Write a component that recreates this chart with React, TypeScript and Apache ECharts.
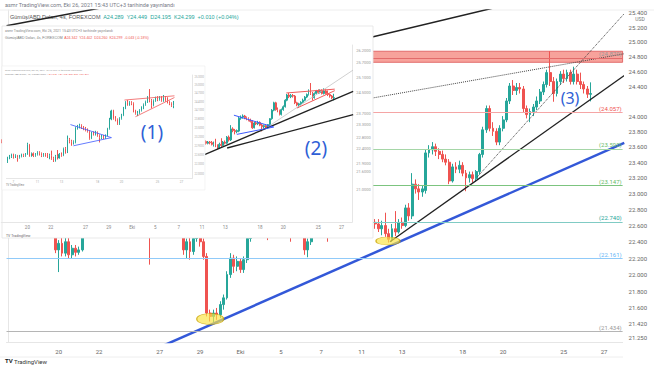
import React, { useEffect, useRef } from "react";
import * as echarts from "echarts";

// ---------- data ----------
const tradingDays = [
  "2021-09-15","2021-09-16","2021-09-17","2021-09-20","2021-09-21","2021-09-22","2021-09-23","2021-09-24",
  "2021-09-27","2021-09-28","2021-09-29","2021-09-30","2021-10-01","2021-10-04","2021-10-05","2021-10-06",
  "2021-10-07","2021-10-08","2021-10-11","2021-10-12","2021-10-13","2021-10-14","2021-10-15","2021-10-18",
  "2021-10-19","2021-10-20","2021-10-21","2021-10-22","2021-10-25","2021-10-26","2021-10-27",
];
const candleHours = ["00:00", "04:00", "08:00", "12:00", "16:00", "20:00"];
const firstSlot = 3; // series starts 2021-09-15 12:00

const timeLabelDays = [
  "2021-09-20","2021-09-22","2021-09-27","2021-09-29","2021-10-01","2021-10-05","2021-10-07",
  "2021-10-11","2021-10-13","2021-10-18","2021-10-20","2021-10-25","2021-10-27",
];
const monthNames: Record<string, string> = { "2021-10-01": "Eki" };

// 4h candles: [open, close, low, high]
const candles = [
  [22.70,22.64,22.58,22.76],[22.64,22.70,22.60,22.78],[22.70,22.66,22.60,22.74],[22.66,22.60,22.54,22.70],[22.60,22.66,22.55,22.72],[22.66,22.62,22.56,22.70],
  [22.62,22.68,22.58,22.74],[22.68,22.64,22.58,22.72],[22.64,22.58,22.52,22.68],[22.58,22.62,22.52,22.66],[22.62,22.60,22.54,22.68],[22.60,22.64,22.55,22.70],
  [22.64,22.60,22.54,22.68],[22.60,22.56,22.50,22.64],[22.56,22.30,22.26,22.60],[22.30,22.38,22.03,22.42],[22.38,22.26,22.22,22.46],[22.26,22.40,22.22,22.48],
  [22.40,22.24,22.20,22.46],[22.24,22.32,22.20,22.36],[22.32,22.27,22.22,22.36],[22.27,22.30,22.24,22.34],[22.30,22.52,22.28,22.56],[22.52,22.62,22.50,22.68],
  [22.62,22.70,22.56,22.78],[22.70,22.66,22.60,22.76],[22.66,22.80,22.62,22.86],[22.80,22.74,22.66,22.90],[22.74,22.90,22.70,22.96],[22.90,22.76,22.62,22.98],
  [22.76,22.82,22.70,22.88],[22.82,22.88,22.76,22.94],[22.88,22.80,22.72,22.92],[22.80,22.74,22.66,22.84],[22.74,22.84,22.70,22.90],[22.84,22.78,22.70,22.88],
  [22.78,22.68,22.60,22.82],[22.68,22.62,22.56,22.72],[22.62,22.66,22.56,22.72],[22.66,22.60,22.54,22.70],[22.60,22.64,22.55,22.68],[22.64,22.58,22.52,22.68],
  [22.58,22.55,22.12,22.62],[22.55,22.62,22.50,22.66],[22.62,22.70,22.58,22.76],[22.70,22.66,22.60,22.74],[22.66,22.74,22.62,22.80],[22.74,22.70,22.64,22.78],
  [22.70,22.64,22.58,22.74],[22.64,22.68,22.58,22.72],[22.68,22.60,22.52,22.70],[22.60,22.56,22.48,22.64],[22.56,22.30,22.24,22.60],[22.30,22.40,22.20,22.44],
  [22.40,22.28,22.18,22.46],[22.28,22.44,22.24,22.50],[22.44,22.50,22.40,22.56],[22.50,22.40,22.34,22.54],[22.40,22.22,22.18,22.44],[22.22,21.54,21.50,22.26],
  [21.54,21.50,21.44,21.58],[21.50,21.54,21.43,21.58],[21.54,21.52,21.46,21.60],[21.52,21.64,21.48,21.68],[21.64,21.72,21.58,21.76],[21.72,22.00,21.70,22.04],
  [22.00,22.20,21.96,22.26],[22.20,22.10,22.02,22.24],[22.10,22.16,22.04,22.22],[22.16,22.06,22.02,22.20],[22.06,22.18,22.02,22.22],[22.18,22.44,22.14,22.48],
  [22.44,22.62,22.40,22.66],[22.62,22.70,22.56,22.76],[22.70,22.66,22.60,22.76],[22.66,22.74,22.60,22.80],[22.74,22.70,22.62,22.78],[22.70,22.62,22.42,22.74],
  [22.62,22.70,22.56,22.76],[22.70,22.76,22.64,22.82],[22.76,22.72,22.66,22.80],[22.72,22.66,22.58,22.76],[22.66,22.70,22.60,22.76],[22.70,22.62,22.56,22.74],
  [22.62,22.58,22.40,22.66],[22.58,22.64,22.52,22.70],[22.64,22.56,22.50,22.68],[22.56,22.50,22.46,22.60],[22.50,22.30,22.24,22.54],[22.30,22.40,22.21,22.44],
  [22.40,22.52,22.36,22.56],[22.52,22.58,22.48,22.62],[22.58,22.62,22.52,22.66],[22.62,22.56,22.50,22.66],[22.56,22.60,22.52,22.64],[22.60,22.54,22.40,22.62],
  [22.54,22.58,22.50,22.62],[22.58,22.62,22.54,22.66],[22.62,22.60,22.55,22.66],[22.60,22.64,22.56,22.68],[22.64,22.96,22.62,23.02],[22.96,22.62,22.56,22.98],
  [22.62,22.66,22.56,22.70],[22.66,22.60,22.55,22.70],[22.60,22.64,22.56,22.68],[22.64,22.70,22.60,22.74],[22.70,22.66,22.60,22.74],[22.66,22.60,22.55,22.70],
  [22.60,22.64,22.56,22.68],[22.64,22.62,22.56,22.68],
  [22.62,22.56,22.52,22.68],[22.56,22.60,22.48,22.66],[22.60,22.50,22.46,22.76],[22.50,22.43,22.39,22.56],[22.43,22.56,22.40,22.62],[22.56,22.52,22.47,22.78],
  [22.52,22.64,22.50,22.68],[22.64,22.60,22.56,22.70],[22.60,22.82,22.58,22.86],[22.82,22.72,22.66,22.88],[22.72,23.12,22.68,23.26],[23.12,23.06,23.00,23.18],
  [23.06,23.02,22.92,23.12],[23.02,23.06,22.96,23.10],[23.04,23.52,23.00,23.56],[23.52,23.56,23.46,23.62],[23.56,23.60,23.50,23.66],[23.60,23.54,23.48,23.64],
  [23.54,23.50,23.44,23.58],[23.50,23.44,23.40,23.55],[23.44,23.40,23.36,23.50],[23.40,23.16,23.12,23.44],[23.16,23.34,23.14,23.38],[23.34,23.31,23.26,23.40],
  [23.31,23.36,23.26,23.42],[23.36,23.26,23.22,23.40],[23.26,23.20,23.03,23.30],[23.20,23.24,23.14,23.28],[23.24,23.19,23.14,23.28],[23.19,23.28,23.15,23.30],
  [23.28,23.50,23.24,23.52],[23.50,23.82,23.46,23.86],[23.82,24.10,23.78,24.14],[24.10,23.84,23.80,24.14],[23.84,23.80,23.74,23.92],[23.80,23.66,23.62,23.84],
  [23.66,23.84,23.62,23.88],[23.84,23.95,23.80,24.00],[23.95,24.20,23.92,24.24],[24.20,24.40,24.16,24.44],[24.40,24.34,24.28,24.48],[24.34,24.38,24.28,24.44],
  [24.38,24.36,24.30,24.44],[24.36,24.10,24.05,24.40],[24.10,24.02,23.97,24.14],[24.02,24.06,23.92,24.10],[24.06,24.12,24.00,24.16],[24.12,24.20,24.08,24.26],
  [24.20,24.32,24.16,24.36],[24.32,24.42,24.28,24.46],[24.42,24.58,24.38,24.62],[24.58,24.46,24.40,24.87],[24.46,24.30,24.19,24.52],[24.30,24.46,24.26,24.50],
  [24.46,24.56,24.42,24.60],[24.56,24.50,24.44,24.62],[24.50,24.58,24.46,24.62],[24.58,24.46,24.42,24.62],[24.46,24.56,24.42,24.66],[24.56,24.46,24.42,24.62],
  [24.46,24.42,24.36,24.58],[24.42,24.36,24.30,24.46],[24.36,24.29,24.24,24.40],[24.289,24.299,24.195,24.449],
];

// price axis (log scale) ticks and ranges
const priceTicks = [25.4, 25.2, 25.0, 24.8, 24.6, 24.4, 24.0, 23.8, 23.6, 23.4, 23.2, 23.0, 22.8, 22.6, 22.4, 22.2, 22.0, 21.8, 21.6, 21.42, 21.25];
const mainRange = [21.2, 25.44];
const inset2Ticks = [26.2, 25.7, 25.1, 24.5, 23.7, 23.3, 22.8, 22.4, 21.9, 21.6, 21.0];
const inset2Range = [19.94, 26.42];
const inset1Ticks = [25.3, 25.0, 24.7, 24.4, 24.1, 23.8, 23.5, 23.2, 22.9, 22.6, 22.3, 22.0];
const inset1Range = [21.88, 25.38];

// horizontal levels
const resistanceZone = [24.72, 24.87];
const levelPrices = [24.87, 24.057, 23.59, 23.147, 22.74, 22.161, 21.434];
const lastPrice = 24.299;
const lastCountdown = "16:41";

// drawings: anchors as [candle index, price]
const trendA = [[-0.5, 25.22], [33.2, 25.52]];
const trendB = [[86.7, 24.83], [146.1, 25.49]];
const trendC = [[113.4, 22.40], [183, 24.54]];
const trendCInset = [[100, 22.01], [183, 24.54]];
const trendD = [[38, 21.02], [183, 23.65]];
const trendDInset = [[118, 22.43], [183, 23.65]];
const dottedE = [[100, 24.175], [183, 24.836]];
const dottedF = [[139.3, 23.21], [183, 25.39]];
const triangleTop = [[121.5, 23.63], [142, 23.19]];
const triangleBottom = [[123, 22.92], [142, 23.19]];
const wedgeTop = [[148.5, 24.48], [173.5, 24.63]];
const wedgeBottom = [[154, 23.90], [173.5, 24.57]];
const touchPoints = [[112.8, 22.41], [60, 21.47]];

// ---------- option ----------
const L = Math.log;
const UP = "#26a69a";
const DOWN = "#ef5350";
const FONT = "Roboto, 'Noto Sans', sans-serif";

const allCats: string[] = [];
tradingDays.forEach((d) => candleHours.forEach((h) => allCats.push(`${d} ${h}`)));
const cats = allCats.slice(firstSlot);
const N = cats.length;
const labelSet = new Set(timeLabelDays.map((d) => `${d} 00:00`));
const dayFmt = (v: string) => monthNames[v.slice(0, 10)] ?? String(parseInt(v.slice(8, 10), 10));
const lnCandles = candles.map((c) => c.map((v) => L(v)));

function seg(pts: number[][], xi: number, yi: number, lineStyle: any, z: number) {
  return {
    type: "line", xAxisIndex: xi, yAxisIndex: yi, z, silent: true, symbol: "none", showSymbol: false,
    data: pts.map(([c, p]) => [c, L(p)]), lineStyle, emphasis: { disabled: true },
  };
}

function catAxis(grid: number, from: number, fontSize: number, color: string, margin: number, z: number, show = true) {
  return {
    type: "category", gridIndex: grid, data: cats.slice(from), boundaryGap: true, z,
    axisLine: { show, lineStyle: { color: "#e6e6e6" } }, axisTick: { show: false }, splitLine: { show: false },
    axisLabel: { show, interval: (_i: number, v: string) => labelSet.has(v), formatter: dayFmt, fontSize, color, margin, fontFamily: FONT },
  };
}
function valAxis(grid: number, from: number) {
  return { type: "value", gridIndex: grid, min: from - 0.5, max: N - 0.5, show: false };
}
function priceAxis(grid: number, range: number[], ticks: number[], digits: number, fontSize: number, color: string, z: number, margin: number) {
  return {
    type: "value", gridIndex: grid, position: "right", min: L(range[0]), max: L(range[1]), z,
    axisLine: { show: true, lineStyle: { color: "#e6e6e6" } }, axisTick: { show: false }, splitLine: { show: false },
    axisLabel: {
      customValues: ticks.map((t) => L(t)), formatter: (v: number) => Math.exp(v).toFixed(digits),
      fontSize, color, margin, fontFamily: FONT,
    },
  };
}

const levelLine = ["#e26b6b", "#f5a5a5", "#a5d6a7", "#7cc47f", "#80cbc4", "#90caf9", "#b5b5b5"];
const levelText = ["#999", "#ef5350", "#66bb6a", "#66bb6a", "#26a69a", "#64b5f6", "#999"];

const candleStyle = { color: UP, color0: DOWN, borderColor: UP, borderColor0: DOWN, borderWidth: 1 };

const option: any = {
  animation: false,
  backgroundColor: "#fff",
  textStyle: { fontFamily: FONT },
  grid: [
    { left: 6.5, right: 31.4, top: 10, bottom: 24 },
    { left: 1.22, top: 45, width: 350.98, height: 177 },
    { left: 6.45, top: 75, width: 186.0, height: 103 },
  ],
  xAxis: [
    catAxis(0, 0, 6, "#666", 6, 0),
    valAxis(0, 0),
    catAxis(1, 2, 4.5, "#888", 3, 11),
    valAxis(1, 2),
    catAxis(2, 90, 3, "#aaa", 2, 21),
    valAxis(2, 90),
  ],
  yAxis: [
    priceAxis(0, mainRange, priceTicks, 3, 6, "#666", 0, 6),
    priceAxis(1, inset2Range, inset2Ticks, 4, 4, "#999", 11, 4),
    priceAxis(2, inset1Range, inset1Ticks, 4, 2.6, "#aaa", 21, 2),
  ],
  series: [
    {
      type: "candlestick", xAxisIndex: 0, yAxisIndex: 0, z: 2, barWidth: "70%", data: lnCandles,
      itemStyle: candleStyle, emphasis: { disabled: true },
      markArea: {
        silent: true,
        itemStyle: { color: "#f7a29b", borderColor: "#e26b6b", borderWidth: 1 },
        data: [[{ yAxis: L(resistanceZone[1]) }, { yAxis: L(resistanceZone[0]) }]],
      },
      markLine: {
        silent: true, symbol: "none", animation: false,
        data: [
          ...levelPrices.map((p, i) => ({
            yAxis: L(p),
            lineStyle: { color: levelLine[i], width: 1, type: "solid" },
            label: { show: true, position: "insideEndTop", formatter: `(${p.toFixed(3)})`, color: levelText[i], fontSize: 6, distance: 1, fontFamily: FONT },
          })),
          {
            yAxis: L(lastPrice),
            lineStyle: { opacity: 0 },
            label: {
              show: true, position: "end", distance: 0, formatter: `${lastPrice.toFixed(3)}\n${lastCountdown}`,
              backgroundColor: "#22ab94", color: "#fff", fontSize: 5.5, lineHeight: 6.5, padding: [1, 4], fontFamily: FONT,
            },
          },
        ],
      },
    },
    seg(trendA, 1, 0, { color: "#222", width: 1.5 }, 3),
    seg(trendB, 1, 0, { color: "#222", width: 1.5 }, 3),
    seg(trendC, 1, 0, { color: "#222", width: 1.3 }, 3),
    seg(trendD, 1, 0, { color: "#3358d8", width: 2.5 }, 3),
    seg(dottedE, 1, 0, { color: "#444", width: 1, type: "dotted" }, 3),
    seg(dottedF, 1, 0, { color: "#444", width: 1, type: "dotted" }, 3),
    {
      type: "scatter", xAxisIndex: 1, yAxisIndex: 0, z: 4, silent: true, symbol: "circle",
      data: [
        { value: [touchPoints[0][0], L(touchPoints[0][1])], symbolSize: [24, 8] },
        { value: [touchPoints[1][0], L(touchPoints[1][1])], symbolSize: [27, 11] },
      ],
      itemStyle: { color: "rgba(250,228,70,0.85)", borderColor: "#c9a400", borderWidth: 0.8 },
    },
    // inset (2)
    {
      type: "candlestick", xAxisIndex: 2, yAxisIndex: 1, z: 12, barWidth: "70%", data: lnCandles.slice(2),
      itemStyle: candleStyle, emphasis: { disabled: true },
      markLine: {
        silent: true, symbol: "none",
        data: [{
          yAxis: L(lastPrice), lineStyle: { opacity: 0 },
          label: { show: true, position: "end", distance: 2, formatter: "24.2990\n15:43", backgroundColor: DOWN, color: "#fff", fontSize: 3.5, lineHeight: 4, padding: [0.5, 2] },
        }],
      },
    },
    seg(trendCInset, 3, 1, { color: "#222", width: 1.4 }, 13),
    seg(trendDInset, 3, 1, { color: "#222", width: 1.4 }, 13),
    seg(dottedF, 3, 1, { color: "#c4c4c4", width: 0.8 }, 13),
    seg(triangleTop, 3, 1, { color: "#3d5afe", width: 1 }, 13),
    seg(triangleBottom, 3, 1, { color: "#3d5afe", width: 1 }, 13),
    seg(wedgeTop, 3, 1, { color: "#f05a5a", width: 1 }, 13),
    seg(wedgeBottom, 3, 1, { color: "#f05a5a", width: 1 }, 13),
    // inset (1)
    {
      type: "candlestick", xAxisIndex: 4, yAxisIndex: 2, z: 22, barWidth: "70%", data: lnCandles.slice(90),
      itemStyle: candleStyle, emphasis: { disabled: true },
      markLine: {
        silent: true, symbol: "none",
        data: [{
          yAxis: L(lastPrice), lineStyle: { opacity: 0 },
          label: { show: true, position: "end", distance: 1, formatter: "24.2990", backgroundColor: DOWN, color: "#fff", fontSize: 2.6, padding: [0.5, 1.5] },
        }],
      },
    },
    seg(triangleTop, 5, 2, { color: "#3d5afe", width: 0.8 }, 23),
    seg(triangleBottom, 5, 2, { color: "#3d5afe", width: 0.8 }, 23),
    seg(wedgeTop, 5, 2, { color: "#f05a5a", width: 0.8 }, 23),
    seg(wedgeBottom, 5, 2, { color: "#f05a5a", width: 0.8 }, 23),
  ],
  graphic: [
    { type: "line", z: 1, shape: { x1: 0, y1: 10, x2: 654, y2: 10 }, style: { stroke: "#eeeeee", lineWidth: 1 } },
    { type: "line", z: 1, shape: { x1: 0, y1: 357, x2: 623, y2: 357 }, style: { stroke: "#eeeeee", lineWidth: 1 } },
    { type: "text", z: 1, x: 5, y: 5, style: { text: "asmr TradingView.com, Eki 26, 2021 15:43 UTC+3 tarihinde yayınlandı", fill: "#787b86", fontSize: 5.5, fontFamily: FONT, verticalAlign: "middle" } },
    {
      type: "text", z: 1, x: 10, y: 17,
      style: {
        text: "{g|Gümüş/ABD Doları, 4s, FOREXCOM}  {v|A24.289  Y24.449  D24.195  K24.299  +0.010 (+0.04%)}",
        fontSize: 5.5, fontFamily: FONT, verticalAlign: "middle",
        rich: { g: { fill: "#555", color: "#555", fontSize: 5.5 }, v: { fill: "#26a69a", color: "#26a69a", fontSize: 5.5 } },
      },
    },
    { type: "text", z: 1, x: 640, y: 19, style: { text: "USD", fill: "#777", fontSize: 5, fontFamily: FONT, align: "center", verticalAlign: "middle" } },
    { type: "text", z: 1, x: 5, y: 361, style: { text: "{b|TV} TradingView", fill: "#333", fontSize: 6, fontFamily: FONT, verticalAlign: "middle", rich: { b: { fontWeight: "bold", fontSize: 6, fill: "#131722" } } } },

    // inset (2) frame
    { type: "rect", z: 10, shape: { x: 2, y: 26, width: 371, height: 212 }, style: { fill: "#fff", stroke: "#e3e3e3", lineWidth: 0.8 } },
    { type: "text", z: 11, x: 5, y: 31, style: { text: "asmr TradingView.com, Eki 26, 2021 15:43 UTC+3 tarihinde yayınlandı", fill: "#888", fontSize: 3.5, fontFamily: FONT, verticalAlign: "middle" } },
    {
      type: "text", z: 11, x: 5, y: 38,
      style: {
        text: "{g|Gümüş/ABD Doları, 4s, FOREXCOM}  {v|A24.342  Y24.402  D24.260  K24.299  -0.043 (-0.18%)}",
        fontSize: 3.5, fontFamily: FONT, verticalAlign: "middle",
        rich: { g: { fill: "#777", color: "#777", fontSize: 3.5 }, v: { fill: DOWN, color: DOWN, fontSize: 3.5 } },
      },
    },
    { type: "text", z: 11, x: 6, y: 236, style: { text: "TV TradingView", fill: "#666", fontSize: 3.5, fontFamily: FONT, verticalAlign: "middle" } },

    // inset (1) frame
    { type: "rect", z: 20, shape: { x: 2, y: 66, width: 203, height: 124 }, style: { fill: "#fff", stroke: "#ececec", lineWidth: 0.6 } },
    { type: "text", z: 21, x: 5, y: 70, style: { text: "asmr TradingView.com, Eki 26, 2021 15:43 UTC+3 tarihinde yayınlandı", fill: "#999", fontSize: 2.5, fontFamily: FONT, verticalAlign: "middle" } },
    {
      type: "text", z: 21, x: 5, y: 74,
      style: {
        text: "{g|Gümüş/ABD Doları, 4s, FOREXCOM}  {v|A24.342  Y24.402  D24.260  K24.299}",
        fontSize: 2.5, fontFamily: FONT, verticalAlign: "middle",
        rich: { g: { fill: "#888", color: "#888", fontSize: 2.5 }, v: { fill: DOWN, color: DOWN, fontSize: 2.5 } },
      },
    },
    { type: "text", z: 21, x: 6, y: 186, style: { text: "TV TradingView", fill: "#777", fontSize: 2.6, fontFamily: FONT, verticalAlign: "middle" } },

    // pattern numbers
    { type: "text", z: 30, x: 152, y: 132, style: { text: "(1)", fill: "#2f5fd6", fontSize: 19, fontFamily: "'Noto Sans', sans-serif", align: "center", verticalAlign: "middle" } },
    { type: "text", z: 30, x: 316, y: 148, style: { text: "(2)", fill: "#2f5fd6", fontSize: 19, fontFamily: "'Noto Sans', sans-serif", align: "center", verticalAlign: "middle" } },
    { type: "text", z: 30, x: 570, y: 98, style: { text: "(3)", fill: "#2f5fd6", fontSize: 16, fontFamily: "'Noto Sans', sans-serif", align: "center", verticalAlign: "middle" } },
  ],
};

export default function App() {
  const ref = useRef<HTMLDivElement>(null);
  useEffect(() => {
    const chart = echarts.init(ref.current as HTMLDivElement, null, { renderer: "svg" });
    chart.setOption(option);
    return () => chart.dispose();
  }, []);
  return (
    <div style={{ position: "fixed", left: 0, top: 0, width: 654, height: 366, background: "#fff" }}>
      <div ref={ref} style={{ width: 654, height: 366 }} />
    </div>
  );
}
